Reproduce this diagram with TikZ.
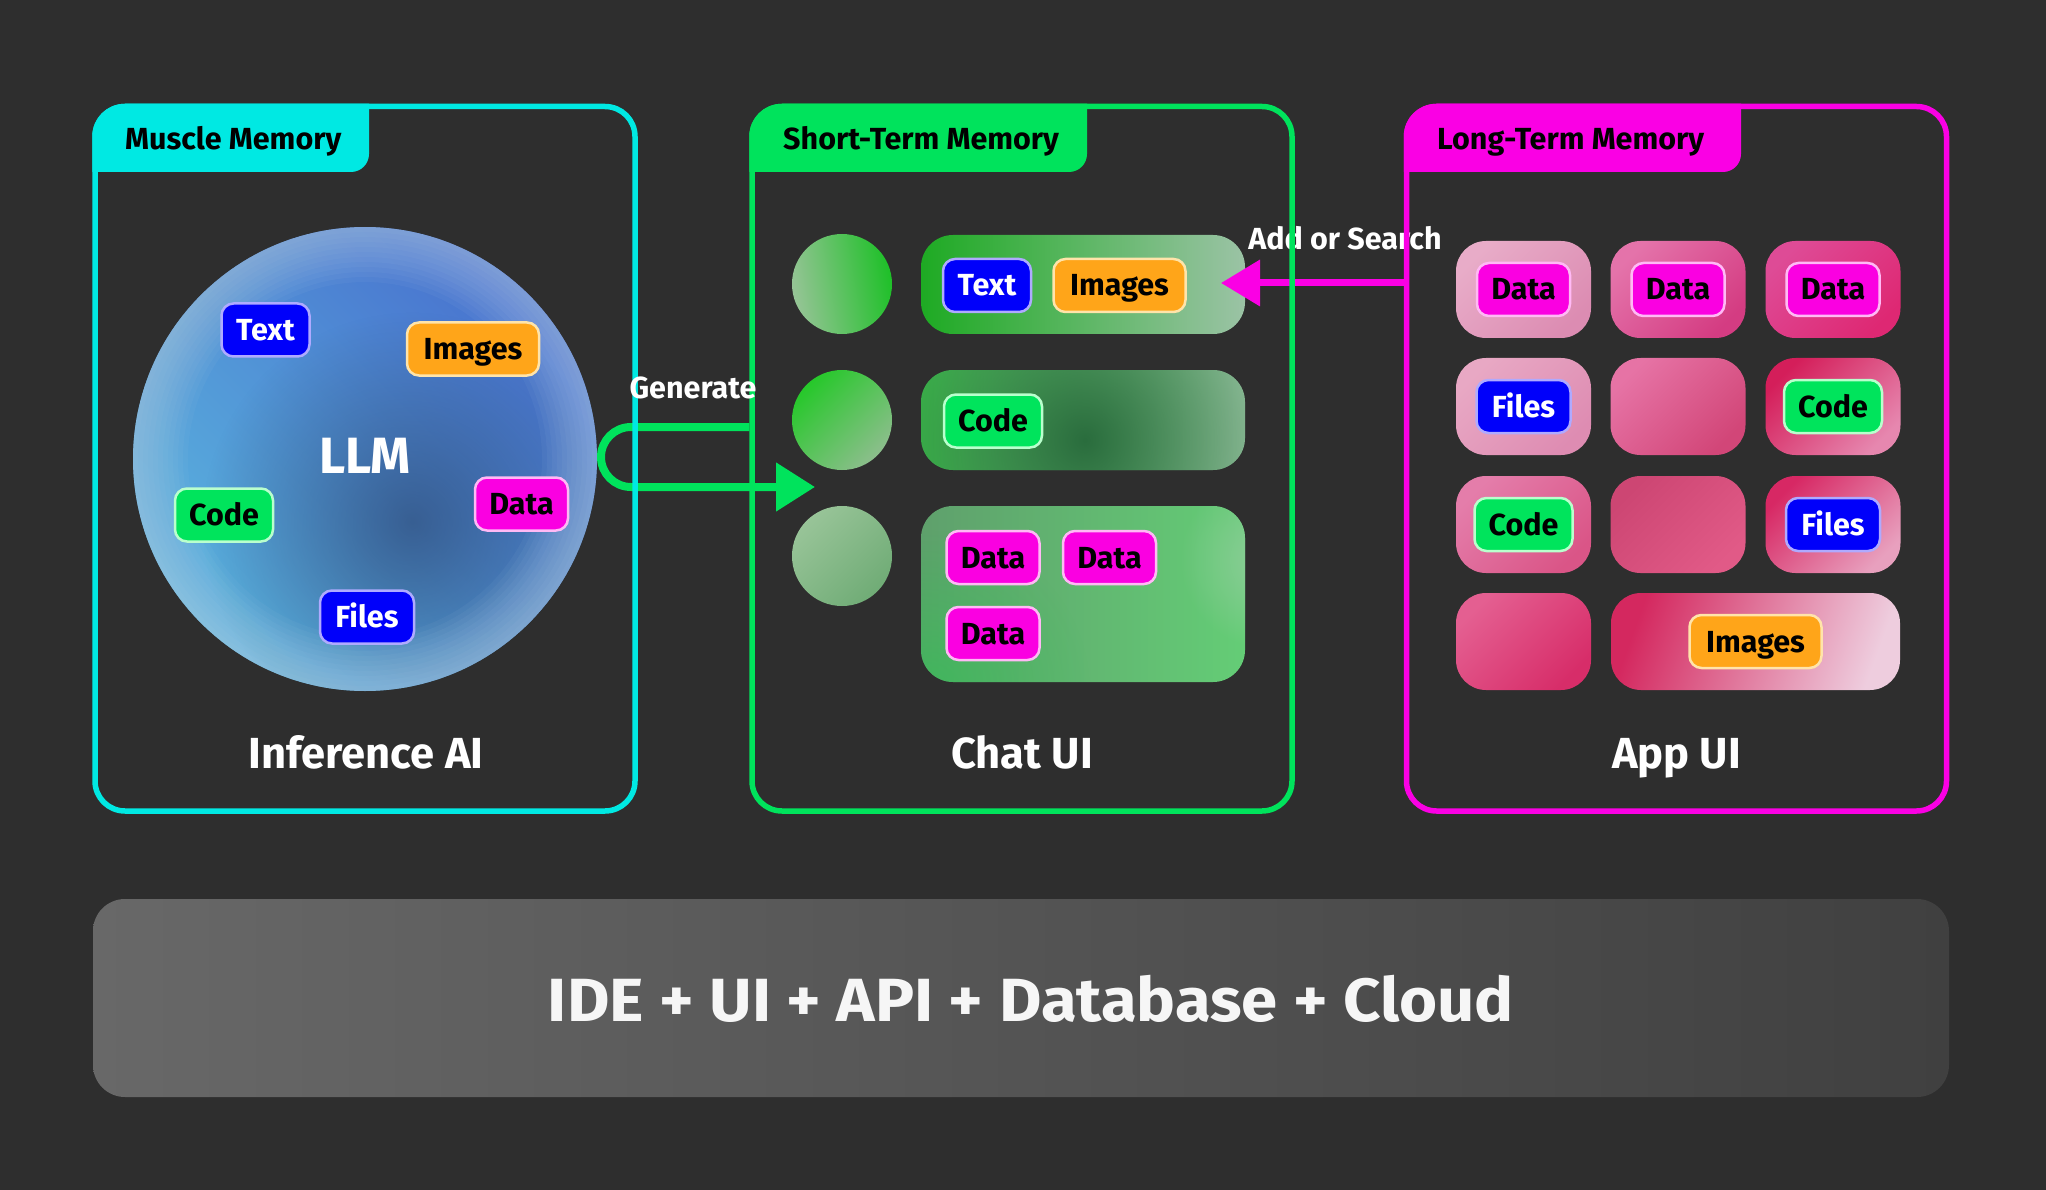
\documentclass[tikz,border=0pt]{standalone}
\usepackage{fontspec}
\setmainfont{Fira Sans}
\usetikzlibrary{arrows.meta,fadings}
\definecolor{bgc}{RGB}{46,46,46}
\definecolor{cyanc}{RGB}{0,233,227}
\definecolor{greenc}{RGB}{0,227,92}
\definecolor{magc}{RGB}{250,0,228}
\definecolor{tagblue}{RGB}{0,0,250}
\definecolor{tagblueb}{RGB}{175,170,255}
\definecolor{tagorange}{RGB}{255,165,25}
\definecolor{tagorangeb}{RGB}{255,228,170}
\definecolor{taggreen}{RGB}{0,228,92}
\definecolor{taggreenb}{RGB}{185,255,205}
\definecolor{tagmag}{RGB}{250,0,225}
\definecolor{tagmagb}{RGB}{255,185,245}
\definecolor{llmA}{RGB}{90,180,222}
\definecolor{llmB}{RGB}{72,112,206}
\definecolor{llmDark}{RGB}{35,52,92}
\definecolor{llmRim}{RGB}{185,208,230}
\definecolor{gdark}{RGB}{35,100,55}
\definecolor{gpale}{RGB}{150,205,160}
\definecolor{gbright}{RGB}{40,200,80}
\newcommand\tgfont{\fontsize{30.5}{36}\selectfont\bfseries}
\newcommand\lblfont{\fontsize{43.5}{50}\selectfont\bfseries}
\newcommand\llmfont{\fontsize{51}{60}\selectfont\bfseries}
\newcommand\barfont{\fontsize{61}{72}\selectfont\bfseries}
\tikzfading[name=spotfade, inner color=transparent!10, outer color=transparent!100]
\tikzfading[name=softspot, inner color=transparent!45, outer color=transparent!100]
\pgfdeclarelayer{front}
\pgfsetlayers{main,front}
\newcommand\paneltab[3]{\fill[#1] (#2,136.5) arc[start angle=180,end angle=270,radius=32.75] -- (#3,103.75) -- (#3,154) arc[start angle=0,end angle=90,radius=18] -- (#2,172) -- cycle;}
\begin{document}
\begin{tikzpicture}[x=1pt,y=-1pt,
 panelbox/.style={draw=#1, line width=5.5pt, rounded corners=30pt, minimum width=540pt, minimum height=704.5pt, inner sep=0pt},
 tagbox/.style={rounded corners=12pt, minimum height=53pt, inner xsep=2pt, inner ysep=0pt, line width=2.5pt, text height=21pt, text depth=0pt, font=\tgfont},
 tblue/.style={tagbox, fill=tagblue, draw=tagblueb, text=white},
 torange/.style={tagbox, fill=tagorange, draw=tagorangeb, text=black},
 tgreen/.style={tagbox, fill=taggreen, draw=taggreenb, text=black},
 tmag/.style={tagbox, fill=tagmag, draw=tagmagb, text=black},
 wtxt/.style={minimum width=88pt}, wimg/.style={minimum width=132pt},
 wcode/.style={minimum width=98pt}, wdata/.style={minimum width=93pt}, wfiles/.style={minimum width=94pt},
 tile/.style={rounded corners=30pt, minimum width=135pt, minimum height=97pt, inner sep=0pt},
 grect/.style={rounded corners=32pt, minimum width=324pt, inner sep=0pt},
 gcirc/.style={circle, minimum size=100pt, inner sep=0pt},
 titletext/.style={font=\tgfont, text=black, anchor=base west, inner sep=0pt},
 bottomlabel/.style={font=\lblfont, text=white, anchor=base, inner sep=0pt},
 arrowlabel/.style={font=\tgfont, text=white, anchor=base, inner sep=0pt},
 garrow/.style={draw=greenc, line width=8pt, -{Triangle[length=39pt,width=47pt]}},
 marrow/.style={draw=magc, line width=7pt, -{Triangle[length=39pt,width=45pt]}},
]
\fill[bgc] (0,0) rectangle (2046,1190);
\useasboundingbox (0,0) rectangle (2046,1190);

% ---------- panels (front layer) ----------
\begin{pgfonlayer}{front}
\node[panelbox=cyanc] (p1) at (365,458.75) {};
\node[panelbox=greenc] (p2) at (1022,458.75) {};
\node[panelbox=magc] (p3) at (1676.5,458.75) {};
\paneltab{cyanc}{92.25}{369}
\paneltab{greenc}{749.25}{1087}
\paneltab{magc}{1403.75}{1741}
\node[titletext] (tt1) at (125,150) {Muscle Memory};
\node[titletext] (tt2) at (783,150) {Short-Term Memory};
\node[titletext] (tt3) at (1437,150) {Long-Term Memory};
\node[arrowlabel] (genlabel) at (693,398) {Generate};
\end{pgfonlayer}

% ---------- bottom bar ----------
\node[rounded corners=32pt, minimum width=1856pt, minimum height=198pt, inner sep=0pt,
  left color={rgb,255:red,104;green,104;blue,104}, middle color={rgb,255:red,88;green,88;blue,88},
  right color={rgb,255:red,64;green,64;blue,64}] (bar) at (1021,998) {};
\node[font=\barfont, text={rgb,255:red,246;green,246;blue,246}, anchor=base, inner sep=0pt] (bartext) at (1031,1021) {\scalebox{1.07}[1]{IDE + UI + API + Database + Cloud}};

% ---------- left panel: LLM sphere ----------
\node[circle, minimum size=464pt, inner sep=0pt, bottom color=llmA, top color=llmB, shading angle=-45] (llm) at (365,459) {};
\begin{scope}
 \clip (365,459) circle (232);
 \fill[llmDark, path fading=softspot] (412,522) circle (210);
 \foreach \w in {10,20,...,110} {\draw[llmRim, opacity=0.06, line width=\w pt] (365,459) circle (232);}
\end{scope}
\node[font=\llmfont, text=white, anchor=base, inner sep=0pt] (llmtext) at (365,473) {LLM};
\node[tblue, wtxt] (c1) at (265.5,330) {Text};
\node[torange, wimg] (c2) at (473,349) {Images};
\node[tgreen, wcode] (c3) at (224,515) {Code};
\node[tmag, wdata] (c4) at (521.5,504) {Data};
\node[tblue, wfiles] (c5) at (367,617) {Files};
\node[bottomlabel] (lb1) at (366,768) {Inference AI};

% ---------- middle panel ----------
\node[gcirc, top color={rgb,255:red,30;green,192;blue,40}, bottom color={rgb,255:red,150;green,196;blue,150}, shading angle=-80] (m1) at (842,284) {};
\node[gcirc, top color={rgb,255:red,140;green,190;blue,140}, bottom color={rgb,255:red,38;green,200;blue,42}, shading angle=-135] (m2) at (842,420) {};
\node[gcirc, top color={rgb,255:red,112;green,172;blue,118}, bottom color={rgb,255:red,152;green,196;blue,152}, shading angle=-135] (m3) at (842,556) {};

\node[grect, minimum height=99pt, left color={rgb,255:red,30;green,170;blue,35}, middle color={rgb,255:red,62;green,158;blue,78}, right color={rgb,255:red,155;green,195;blue,165}] (g1) at (1083,284.5) {};
\node[grect, minimum height=100pt, left color={rgb,255:red,60;green,182;blue,75}, middle color={rgb,255:red,42;green,118;blue,66}, right color={rgb,255:red,150;green,195;blue,160}] (g2) at (1083,420) {};
\begin{scope}
 \clip[rounded corners=32pt] (921,370) rectangle (1245,470);
 \fill[gdark, path fading=spotfade] (1085,440) circle (200);
\end{scope}
\node[grect, minimum height=176pt, left color={rgb,255:red,95;green,160;blue,108}, middle color={rgb,255:red,40;green,125;blue,64}, right color={rgb,255:red,100;green,205;blue,118}] (g3) at (1083,594) {};
\begin{scope}
 \clip[rounded corners=32pt] (921,506) rectangle (1245,682);
 \fill[gpale, path fading=spotfade] (1270,560) circle (90);
 \fill[gbright, path fading=softspot] (930,690) circle (160);
\end{scope}

\node[tblue, wtxt] (g1a) at (987,285.5) {Text};
\node[torange, wimg] (g1b) at (1119.5,285.5) {Images};
\node[tgreen, wcode] (g2a) at (993,421) {Code};
\node[tmag, wdata] (g3a) at (993,557.5) {Data};
\node[tmag, wdata] (g3b) at (1109.5,557.5) {Data};
\node[tmag, wdata] (g3c) at (993,633.5) {Data};
\node[bottomlabel] (lb2) at (1022,768) {Chat UI};

% ---------- right panel ----------
\node[tile, top color={rgb,255:red,220;green,140;blue,178}, bottom color={rgb,255:red,232;green,172;blue,200}, shading angle=-135] (r1c1) at (1523.5,289.5) {};
\node[tile, top color={rgb,255:red,212;green,60;blue,130}, bottom color={rgb,255:red,228;green,115;blue,170}, shading angle=-135] (r1c2) at (1678,289.5) {};
\node[tile, top color={rgb,255:red,222;green,40;blue,115}, bottom color={rgb,255:red,222;green,75;blue,150}, shading angle=-135] (r1c3) at (1833,289.5) {};
\node[tile, top color={rgb,255:red,222;green,140;blue,178}, bottom color={rgb,255:red,232;green,168;blue,196}, shading angle=-135] (r2c1) at (1523.5,406.5) {};
\node[tile, top color={rgb,255:red,210;green,70;blue,120}, bottom color={rgb,255:red,230;green,115;blue,165}, shading angle=-135] (r2c2) at (1678,406.5) {};
\node[tile, top color={rgb,255:red,230;green,135;blue,175}, bottom color={rgb,255:red,212;green,30;blue,90}, shading angle=-135] (r2c3) at (1833,406.5) {};
\node[tile, top color={rgb,255:red,218;green,85;blue,135}, bottom color={rgb,255:red,228;green,125;blue,170}, shading angle=-135] (r3c1) at (1523.5,524.5) {};
\node[tile, top color={rgb,255:red,225;green,90;blue,135}, bottom color={rgb,255:red,205;green,70;blue,115}, shading angle=-135] (r3c2) at (1678,524.5) {};
\node[tile, top color={rgb,255:red,232;green,160;blue,190}, bottom color={rgb,255:red,215;green,40;blue,100}, shading angle=-135] (r3c3) at (1833,524.5) {};
\node[tile, top color={rgb,255:red,215;green,45;blue,105}, bottom color={rgb,255:red,228;green,95;blue,145}, shading angle=-135] (r4c1) at (1523.5,641.5) {};
\node[tile, minimum width=289pt, top color={rgb,255:red,238;green,205;blue,222}, bottom color={rgb,255:red,212;green,40;blue,95}, shading angle=-110] (r4w) at (1755.5,641.5) {};

\node[tmag, wdata] (d1) at (r1c1) {Data};
\node[tmag, wdata] (d2) at (r1c2) {Data};
\node[tmag, wdata] (d3) at (r1c3) {Data};
\node[tblue, wfiles] (f1) at (r2c1) {Files};
\node[tgreen, wcode] (k1) at (r2c3) {Code};
\node[tgreen, wcode] (k2) at (r3c1) {Code};
\node[tblue, wfiles] (f2) at (r3c3) {Files};
\node[torange, wimg] (i1) at (r4w) {Images};
\node[bottomlabel] (lb3) at (1676.5,768) {App UI};

% ---------- connectors ----------
\coordinate (gtip) at (815,487);
\draw[garrow] (p2.west |- 0,427) -- (631,427) arc[start angle=270,end angle=90,radius=30] -- (gtip);
\coordinate (mtip) at (1221,283);
\draw[marrow] (p3.west |- 0,283) -- (mtip);
\node[arrowlabel] (addlabel) at (1345,250) {Add or Search};
\end{tikzpicture}
\end{document}
